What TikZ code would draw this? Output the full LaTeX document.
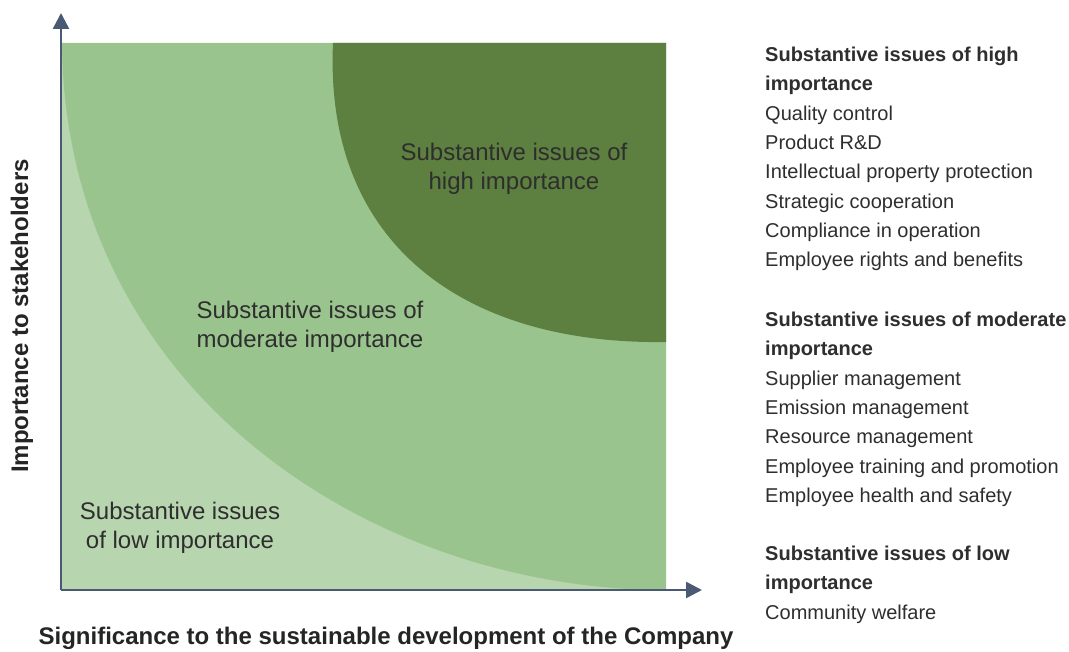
\documentclass[tikz,border=0pt]{standalone}
\usepackage{fontspec}
\setmainfont{Liberation Sans}
\usetikzlibrary{arrows.meta}
\definecolor{lowgreen}{HTML}{B7D5AE}
\definecolor{midgreen}{HTML}{9AC48E}
\definecolor{highgreen}{HTML}{5D7F3F}
\definecolor{axisblue}{HTML}{4A5A74}
\definecolor{txtgrey}{HTML}{2E2E2E}
\tikzset{
	zone label/.style = { text = txtgrey, align = center, font = \fontsize{24}{29}\selectfont },
	axis label/.style = { text = txtgrey!80!black, font = \fontsize{24}{29}\selectfont\bfseries },
	list text/.style = { text = txtgrey, align = left, anchor = north west, inner sep = 0pt, font = \fontsize{20}{29.3}\selectfont }
}
\begin{document}
\begin{tikzpicture}[x = 1pt, y = -1pt]
	\useasboundingbox (0,0) rectangle (1069,652);
	% the three zones
	\fill [lowgreen] (62,43) rectangle (666,590);
	\fill [midgreen] (62,43) .. controls (65,390) and (370,590) .. (666,590) -- (666,43) -- cycle;
	\fill [highgreen] (333,43) .. controls (324,245) and (465,345) .. (666,342) -- (666,43) -- cycle;
	% axes
	\coordinate (origin) at (61,590);
	\coordinate (ytop) at (61,13);
	\coordinate (xend) at (702,590);
	\draw [axisblue, line width = 2.5pt, -{Triangle[length = 16pt, width = 16pt]}] (origin) -- (ytop);
	\draw [axisblue, line width = 2.5pt, -{Triangle[length = 16pt, width = 16pt]}] (origin) -- (xend);
	\node [axis label, rotate = 90] (ylabel) at (22,316) { Importance to stakeholders };
	\node [axis label] (xlabel) at (386,638) { Significance to the sustainable development of the Company };
	% labels inside the zones
	\node [zone label] (highlbl) at (514,169) { Substantive issues of \\ high importance };
	\node [zone label] (modlbl) at (310,327) { Substantive issues of \\ moderate importance };
	\node [zone label] (lowlbl) at (180,528) { Substantive issues \\ of low importance };
	% list on the right
	\node [list text] (highlist) at (765,47) {
		\textbf{Substantive issues of high} \\
		\textbf{importance} \\
		Quality control \\
		Product R\&D \\
		Intellectual property protection \\
		Strategic cooperation \\
		Compliance in operation \\
		Employee rights and benefits
	};
	\node [list text] (modlist) at (765,312) {
		\textbf{Substantive issues of moderate} \\
		\textbf{importance} \\
		Supplier management \\
		Emission management \\
		Resource management \\
		Employee training and promotion \\
		Employee health and safety
	};
	\node [list text] (lowlist) at (765,546) {
		\textbf{Substantive issues of low} \\
		\textbf{importance} \\
		Community welfare
	};
\end{tikzpicture}
\end{document}
